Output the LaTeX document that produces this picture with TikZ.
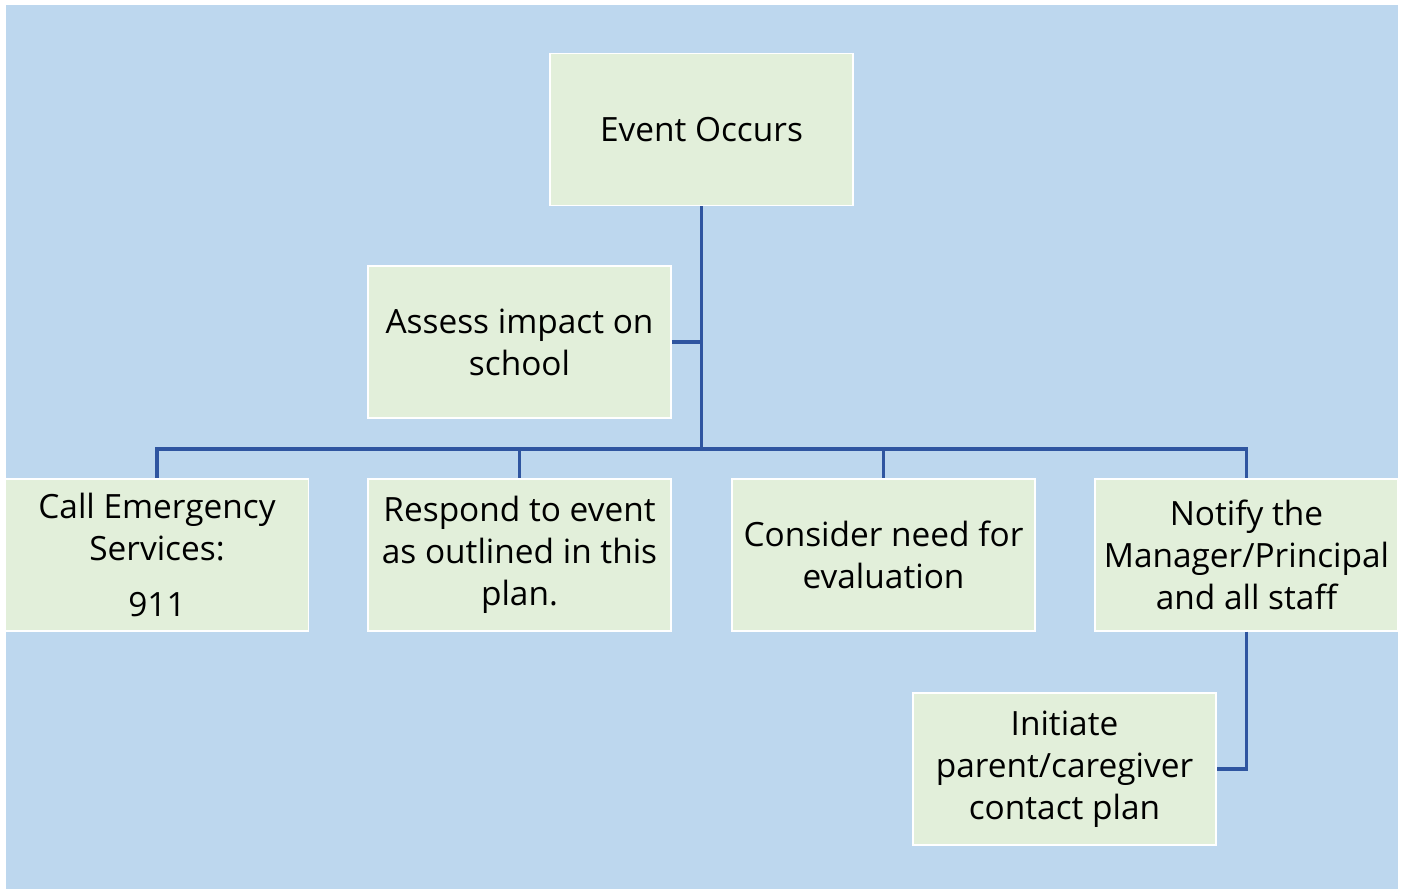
\documentclass[tikz,border=0pt]{standalone}
\usepackage{fontspec}
\setmainfont{Open Sans}
\usetikzlibrary{positioning}
\definecolor{skyback}{RGB}{189,215,238}
\definecolor{stepfill}{RGB}{226,239,218}
\definecolor{linkblue}{RGB}{47,85,160}

\begin{document}
\begin{tikzpicture}[x=0.01cm,y=-0.01cm,stepbox/.style={draw=white,line width=0.4pt,fill=stepfill,align=center,minimum width=3.03cm,minimum height=1.52cm,inner sep=2pt,font=\fontsize{9.5}{11.9}\selectfont},link/.style={draw=linkblue,line width=0.9pt}]
\useasboundingbox (0,0) rectangle (1405,889);
\fill[skyback] (6,5) rectangle (1398,889);
\node[stepbox] (event) at (701.5,129.5) {Event Occurs};
\node[stepbox] (assess) at (519.5,342) {Assess impact on\\school};
\node[stepbox] (call) at (157,555) {Call Emergency\\Services:\\[4pt]911};
\node[stepbox] (respond) at (519.5,555) {Respond to event\\as outlined in this\\plan.};
\node[stepbox] (consider) at (883.5,555) {Consider need for\\evaluation};
\node[stepbox] (notify) at (1246.5,555) {Notify the\\Manager/Principal\\and all staff};
\node[stepbox] (initiate) at (1064.5,769) {Initiate\\parent/caregiver\\contact plan};
\coordinate (bus) at (701.5,449);
\draw[link] (event) -- (bus);
\draw[link] (assess.east) -- (assess.east -| bus);
\draw[link] (bus) -| (call);\draw[link] (bus) -| (respond);
\draw[link] (bus) -| (consider);\draw[link] (bus) -| (notify);
\draw[link] (notify) |- (initiate);
\end{tikzpicture}
\end{document}
